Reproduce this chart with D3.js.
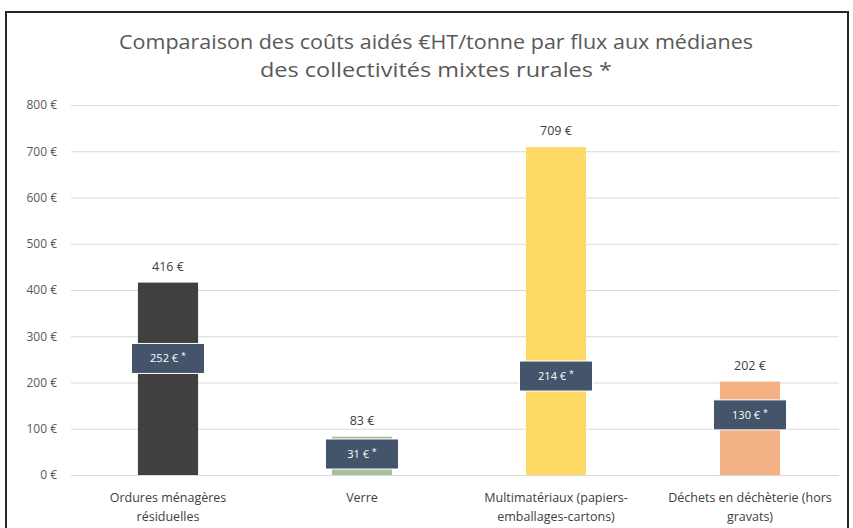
<!DOCTYPE html>
<html>
<head>
<meta charset="utf-8">
<script src="https://cdn.jsdelivr.net/npm/d3@7"></script>
<style>
  body { margin: 0; background: #fff; }
  text { font-family: "Open Sans", sans-serif; }
</style>
</head>
<body>
<div id="chart"></div>
<script>
// Data
const categories = [
  ["Ordures ménagères", "résiduelles"],
  ["Verre"],
  ["Multimatériaux (papiers-", "emballages-cartons)"],
  ["Déchets en déchèterie (hors", "gravats)"]
];
const totals = [416, 83, 709, 202];
const aided = [252, 31, 214, 130];
const yTicks = [0, 100, 200, 300, 400, 500, 600, 700, 800];
const colors = ["#404040", "#a9c09e", "#ffd966", "#f4b183"];

const W = 853, H = 528;
const margin = { top: 105, bottom: 53, left: 71, right: 6 };
const width = W - margin.left - margin.right;
const height = H - margin.top - margin.bottom;

const svg = d3.select("#chart").append("svg")
  .attr("width", W).attr("height", H);

// frame
svg.append("rect")
  .attr("x", 6).attr("y", 12).attr("width", 842).attr("height", 530)
  .attr("fill", "none").attr("stroke", "#262626").attr("stroke-width", 2);

// title
const title = svg.append("text")
  .attr("text-anchor", "middle").attr("fill", "#595959")
  .attr("font-size", 20);
title.append("tspan").attr("x", 436).attr("y", 49)
  .attr("textLength", 634).attr("lengthAdjust", "spacingAndGlyphs")
  .text("Comparaison des coûts aidés €HT/tonne par flux aux médianes");
title.append("tspan").attr("x", 436).attr("y", 77)
  .attr("textLength", 352).attr("lengthAdjust", "spacingAndGlyphs")
  .text("des collectivités mixtes rurales *");

const g = svg.append("g").attr("transform", `translate(${margin.left},${margin.top})`);

const x = d3.scaleBand().domain(d3.range(categories.length)).range([0, 776]).paddingInner(0.69).paddingOuter(0.345);
const y = d3.scaleLinear().domain([0, 800]).range([height, 0]);

// grid + y labels
const yAxis = d3.axisLeft(y).tickValues(yTicks).tickSize(-768).tickFormat(d => `${d} €`).tickPadding(14);
const gy = g.append("g").call(yAxis);
gy.select(".domain").remove();
gy.selectAll(".tick line").attr("stroke", "#d9d9d9");
gy.selectAll(".tick text").attr("fill", "#595959").attr("font-size", 12);

// bars
const data = categories.map((c, i) => ({ i, c, total: totals[i], aid: aided[i] }));
g.selectAll("rect.bar").data(data).join("rect")
  .attr("class", "bar")
  .attr("x", d => x(d.i))
  .attr("width", x.bandwidth())
  .attr("y", d => y(d.total))
  .attr("height", d => y(0) - y(d.total))
  .attr("fill", d => colors[d.i]);

// top labels
g.selectAll("text.tot").data(data).join("text")
  .attr("class", "tot")
  .attr("x", d => x(d.i) + x.bandwidth() / 2)
  .attr("y", d => y(d.total) - 12)
  .attr("text-anchor", "middle").attr("fill", "#404040").attr("font-size", 12.5)
  .text(d => `${d.total} €`);

// aided boxes
const bw = 73, bh = 30;
const boxes = g.selectAll("g.box").data(data).join("g")
  .attr("class", "box")
  .attr("transform", d => {
    const cy = Math.min(y(d.aid), y(0) - bh / 2 - 6);
    return `translate(${x(d.i) + x.bandwidth() / 2},${cy})`;
  });
boxes.append("rect")
  .attr("x", -bw / 2).attr("y", -bh / 2).attr("width", bw).attr("height", bh)
  .attr("fill", "#44546a").attr("stroke", "#fff").attr("stroke-width", 1);
const bt = boxes.append("text")
  .attr("text-anchor", "middle").attr("y", 4).attr("fill", "#fff").attr("font-size", 11);
bt.append("tspan").text(d => `${d.aid} € `);
bt.append("tspan").attr("dy", -3).attr("font-size", 9).text("*");

// x labels
const xl = g.selectAll("text.cat").data(data).join("text")
  .attr("class", "cat")
  .attr("text-anchor", "middle").attr("fill", "#404040").attr("font-size", 12.5);
xl.each(function (d) {
  const t = d3.select(this);
  d.c.forEach((line, k) => {
    t.append("tspan")
      .attr("x", x(d.i) + x.bandwidth() / 2)
      .attr("y", height + 27 + k * 19)
      .text(line);
  });
});
</script>
</body>
</html>
